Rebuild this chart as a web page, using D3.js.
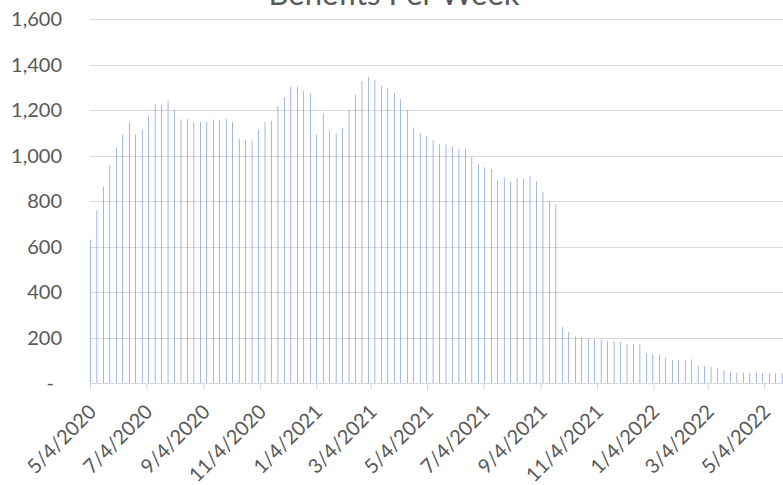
<!DOCTYPE html>
<html lang="en">
	<head>
		<meta charset="utf-8">
		<title>Benefits Per Week</title>
		<script src="https://d3js.org/d3.v7.min.js"></script>
		<style type="text/css">
			body { margin: 0; background: #fff; }
			text { font-family: Lato, "Open Sans", sans-serif; fill: #595959; }
		</style>
	</head>
	<body>
		<script type="text/javascript">
			//Width and height
			var w = 783;
			var h = 485;

			// first week of the series, one bar per week after it
			var firstWeek = "2020-05-04";

			var benefits = [630, 760, 863, 958, 1034, 1092, 1147, 1093, 1115, 1172,
				1228, 1220, 1241, 1201, 1159, 1160, 1147, 1150, 1147, 1158,
				1157, 1160, 1147, 1074, 1068, 1066, 1112, 1147, 1152, 1218,
				1256, 1304, 1304, 1284, 1270, 1092, 1185, 1110, 1096, 1122,
				1200, 1269, 1327, 1346, 1333, 1306, 1295, 1275, 1247, 1200,
				1121, 1099, 1086, 1068, 1049, 1048, 1040, 1030, 1031, 993,
				963, 949, 941, 891, 904, 885, 900, 900, 911, 886,
				838, 800, 786, 246, 224, 204, 198, 195, 193, 190,
				185, 182, 180, 170, 171, 170, 130, 127, 124, 111,
				101, 101, 101, 104, 75, 75, 72, 64, 57, 50,
				47, 45, 45, 47, 44, 44, 43, 43];

			var xTickLabels = ["5/4/2020", "7/4/2020", "9/4/2020", "11/4/2020", "1/4/2021", "3/4/2021",
				"5/4/2021", "7/4/2021", "9/4/2021", "11/4/2021", "1/4/2022", "3/4/2022", "5/4/2022"];

			var yTicks = [0, 200, 400, 600, 800, 1000, 1200, 1400, 1600];

			var parseIso = d3.utcParse("%Y-%m-%d");
			var parseUs = d3.utcParse("%-m/%-d/%Y");
			var start = parseIso(firstWeek);
			var dataset = benefits.map(function(v, i) {
				return { date: d3.utcDay.offset(start, 7 * i), value: v };
			});

			var svg = d3.select("body")
						.append("svg")
						.attr("width", w)
						.attr("height", h);

			var plotLeft = 90, plotRight = 790, plotTop = 19, plotBottom = 383;

			var xscale = d3.scaleUtc()
						.domain([start, parseIso("2022-06-01")])
						.range([plotLeft, plotRight]);

			var yscale = d3.scaleLinear()
						.domain([0, 1600])
						.range([plotBottom, plotTop]);

			// gridlines
			svg.selectAll("line.grid")
			   .data(yTicks.slice(1))
			   .enter()
			   .append("line")
			   .attr("class", "grid")
			   .attr("x1", plotLeft)
			   .attr("x2", w)
			   .attr("y1", function(d) { return Math.round(yscale(d)) + 0.5; })
			   .attr("y2", function(d) { return Math.round(yscale(d)) + 0.5; })
			   .attr("stroke", "#d9d9d9")
			   .attr("stroke-width", 1);

			// bars (one day wide slot, thin bar centred in it)
			var dayW = xscale(d3.utcDay.offset(start, 1)) - xscale(start);
			var barW = 0.5;
			svg.selectAll("rect")
			   .data(dataset)
			   .enter()
			   .append("rect")
			   .attr("x", function(d) { return xscale(d.date) + dayW / 2 - barW / 2; })
			   .attr("y", function(d) { return yscale(d.value); })
			   .attr("width", barW)
			   .attr("height", function(d) { return plotBottom - yscale(d.value); })
			   .attr("fill", "#4472c4");

			// x axis
			var xAxis = d3.axisBottom(xscale)
						.tickValues(xTickLabels.map(parseUs))
						.tickSize(7)
						.tickFormat(d3.utcFormat("%-m/%-d/%Y"));

			var gx = svg.append("g")
						.attr("transform", "translate(0," + plotBottom + ")")
						.call(xAxis);
			gx.select(".domain").attr("stroke", "#d9d9d9").attr("d", "M" + plotLeft + ",0.5H" + w);
			gx.selectAll(".tick line").attr("stroke", "#d9d9d9");
			gx.selectAll(".tick text")
			  .attr("font-size", "20px")
			  .attr("text-anchor", "end")
			  .attr("dy", null)
			  .attr("y", null)
			  .attr("transform", "translate(7,30) rotate(-45)");

			// y axis labels
			var yFmt = d3.format(",");
			svg.selectAll("text.ylab")
			   .data(yTicks)
			   .enter()
			   .append("text")
			   .attr("class", "ylab")
			   .attr("x", 62)
			   .attr("y", function(d) { return yscale(d) + 7; })
			   .attr("text-anchor", "end")
			   .attr("font-size", "20px")
			   .text(function(d) { return d === 0 ? "-" : yFmt(d); });

			svg.select("text.ylab").attr("x", 54);

			// title (cut off at the top)
			svg.append("text")
			   .attr("x", 394)
			   .attr("y", 5)
			   .attr("text-anchor", "middle")
			   .attr("font-size", "31px")
			   .text("Benefits Per Week");
		</script>
	</body>
</html>
